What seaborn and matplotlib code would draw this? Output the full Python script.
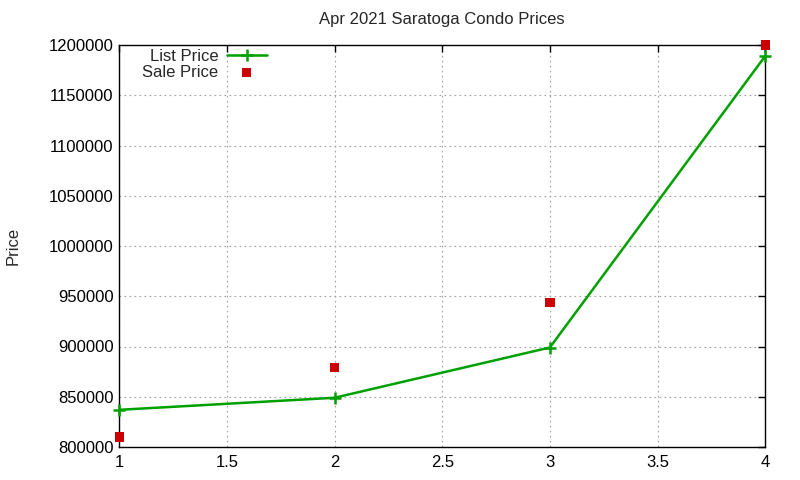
import matplotlib
matplotlib.use("Agg")
import matplotlib.pyplot as plt
import seaborn as sns
import pandas as pd

x_vals = [1, 2, 3, 4]
list_price = [837000, 849000, 899000, 1189000]
sale_price = [810000, 879000, 944000, 1200000]
y_ticks = [800000, 850000, 900000, 950000, 1000000, 1050000, 1100000, 1150000, 1200000]
x_ticks = [1, 1.5, 2, 2.5, 3, 3.5, 4]
x_tick_labels = ["1", "1.5", "2", "2.5", "3", "3.5", "4"]

df = pd.DataFrame({"x": x_vals, "List Price": list_price, "Sale Price": sale_price})

sns.set_style("white")
plt.rcParams["font.family"] = ["Liberation Sans", "DejaVu Sans"]

fig = plt.figure(figsize=(8, 4.8), dpi=100)
ax = fig.add_axes([0.149, 0.06875, 0.8075, 0.8375])

sns.lineplot(data=df, x="x", y="List Price", ax=ax, color="#00a000", linewidth=1.8,
             marker="+", markersize=9, markeredgewidth=1.8, markeredgecolor="#00a000",
             label="List Price", clip_on=False, zorder=4)
sns.scatterplot(data=df, x="x", y="Sale Price", ax=ax, color="#cc0000", marker="s", s=45,
                edgecolor="none", label="Sale Price", zorder=5, clip_on=False)

ax.set_xlim(1, 4)
ax.set_ylim(800000, 1200000)
ax.set_xticks(x_ticks)
ax.set_xticklabels(x_tick_labels)
ax.set_yticks(y_ticks)
ax.set_yticklabels([str(v) for v in y_ticks])
ax.tick_params(axis="both", direction="in", length=5, width=1, labelsize=12, colors="black",
               top=True, right=True, pad=4)
ax.tick_params(axis="x", pad=6)
ax.grid(True, color="#a0a0a0", linestyle=(0, (1.5, 3)), linewidth=0.8)
for s in ax.spines.values():
    s.set_color("black")
    s.set_linewidth(1)
ax.set_xlabel("")
ax.set_ylabel("Price", fontsize=12, labelpad=0)
ax.yaxis.set_label_coords(-0.152, 0.5)
ax.set_title("Apr 2021 Saratoga Condo Prices", fontsize=12, pad=15)

leg = ax.legend(loc="upper left", bbox_to_anchor=(0.02, 1.015), frameon=False, markerfirst=False,
                fontsize=12, handlelength=2.4, handletextpad=0.5, labelspacing=0.05, borderaxespad=0.2)

fig.savefig("out.png", dpi=100)
